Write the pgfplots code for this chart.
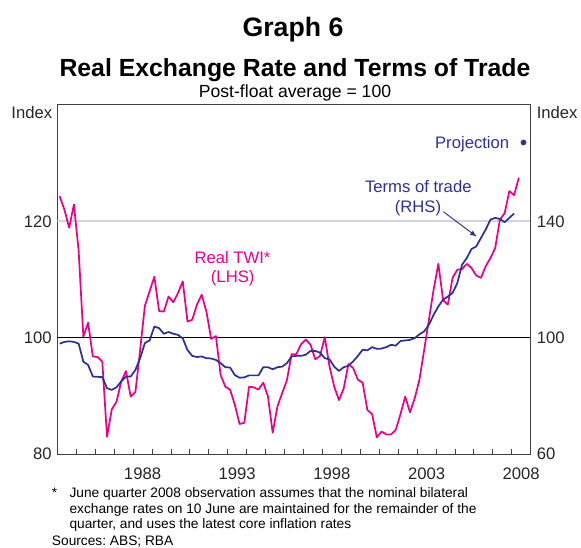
\documentclass[border=0pt]{standalone}
\usepackage{fontspec}
\setmainfont{Liberation Sans}
\usepackage{pgfplots}
\pgfplotsset{compat=1.18}
\usepackage{pgfplotstable}
\usetikzlibrary{arrows.meta}
\definecolor{twi}{RGB}{233,0,139}
\definecolor{tot}{RGB}{46,49,146}
\definecolor{gridgray}{RGB}{208,214,220}

\pgfplotstableread{
year val
1984.125 124.3
1984.375 122.0
1984.625 118.9
1984.875 122.9
1985.125 115.0
1985.375 100.2
1985.625 102.6
1985.875 96.8
1986.125 96.7
1986.375 95.9
1986.625 83.0
1986.875 87.7
1987.125 89.0
1987.375 92.5
1987.625 94.3
1987.875 89.9
1988.125 90.7
1988.375 98.0
1988.625 105.5
1988.875 108.0
1989.125 110.5
1989.375 104.6
1989.625 104.5
1989.875 107.1
1990.125 106.1
1990.375 107.7
1990.625 109.7
1990.875 102.8
1991.125 103.1
1991.375 105.7
1991.625 107.4
1991.875 104.5
1992.125 99.8
1992.375 100.3
1992.625 93.6
1992.875 91.6
1993.125 91.1
1993.375 88.5
1993.625 85.2
1993.875 85.4
1994.125 91.6
1994.375 91.5
1994.625 91.1
1994.875 92.3
1995.125 89.9
1995.375 83.7
1995.625 88.2
1995.875 90.5
1996.125 92.7
1996.375 97.2
1996.625 97.2
1996.875 98.9
1997.125 99.7
1997.375 98.8
1997.625 96.3
1997.875 96.9
1998.125 100.1
1998.375 95.1
1998.625 91.6
1998.875 89.3
1999.125 91.3
1999.375 95.5
1999.625 94.8
1999.875 92.8
2000.125 92.3
2000.375 87.6
2000.625 86.9
2000.875 82.9
2001.125 83.9
2001.375 83.4
2001.625 83.4
2001.875 84.2
2002.125 86.9
2002.375 89.9
2002.625 87.2
2002.875 89.6
2003.125 92.8
2003.375 97.9
2003.625 103.1
2003.875 108.3
2004.125 112.7
2004.375 106.5
2004.625 105.7
2004.875 110.3
2005.125 111.7
2005.375 111.8
2005.625 112.7
2005.875 112.0
2006.125 110.7
2006.375 110.3
2006.625 112.3
2006.875 113.7
2007.125 115.4
2007.375 120.3
2007.625 121.4
2007.875 125.2
2008.125 124.5
2008.375 127.5
}\twitable

\pgfplotstableread{
year val
1984.125 98.0
1984.375 98.6
1984.625 98.8
1984.875 98.6
1985.125 98.0
1985.375 91.8
1985.625 90.7
1985.875 86.7
1986.125 86.6
1986.375 86.5
1986.625 82.7
1986.875 82.1
1987.125 83.0
1987.375 85.0
1987.625 86.7
1987.875 86.7
1988.125 89.0
1988.375 93.0
1988.625 98.2
1988.875 99.1
1989.125 103.9
1989.375 103.3
1989.625 101.4
1989.875 102.0
1990.125 101.4
1990.375 101.0
1990.625 99.8
1990.875 95.8
1991.125 93.8
1991.375 93.4
1991.625 93.6
1991.875 93.0
1992.125 92.9
1992.375 92.4
1992.625 91.3
1992.875 89.9
1993.125 89.8
1993.375 87.2
1993.625 86.3
1993.875 86.4
1994.125 87.1
1994.375 87.1
1994.625 87.1
1994.875 89.9
1995.125 89.9
1995.375 89.2
1995.625 89.9
1995.875 90.1
1996.125 91.3
1996.375 93.6
1996.625 93.8
1996.875 93.8
1997.125 94.2
1997.375 95.5
1997.625 95.5
1997.875 94.9
1998.125 93.0
1998.375 92.6
1998.625 90.1
1998.875 88.6
1999.125 89.9
1999.375 90.4
1999.625 91.9
1999.875 93.8
2000.125 95.9
2000.375 95.7
2000.625 96.8
2000.875 96.2
2001.125 96.3
2001.375 96.8
2001.625 97.6
2001.875 97.3
2002.125 98.9
2002.375 99.1
2002.625 99.3
2002.875 99.9
2003.125 101.2
2003.375 102.2
2003.625 104.5
2003.875 107.9
2004.125 110.8
2004.375 113.1
2004.625 114.2
2004.875 115.4
2005.125 118.8
2005.375 125.1
2005.625 127.4
2005.875 130.5
2006.125 131.4
2006.375 134.3
2006.625 137.2
2006.875 140.6
2007.125 141.2
2007.375 140.8
2007.625 139.7
2007.875 141.2
2008.125 142.7
}\tottable

\begin{document}
\frenchspacing
\begin{tikzpicture}
\useasboundingbox (0,0) rectangle (435.75pt,411pt);
\pgfplotsset{
  common/.style={
    at={(43pt,70.3pt)}, anchor=south west,
    scale only axis, width=355pt, height=262pt,
    xmin=1984, xmax=2009,
    /pgf/number format/assume math mode=true,
    tick label style={font=\fontsize{12.5}{14}\selectfont, text=black!85},
    every axis plot/.append style={line width=1.3pt, line join=round},
  }
}
\begin{axis}[common,
  ymin=80, ymax=140,
  axis line style={draw=black!75, line width=0.8pt},
  ytick={80,100,120}, ytick pos=left,
  ytick style={draw=none},
  yticklabel style={anchor=east, inner sep=0pt, xshift=-4pt},
  xtick={1985,...,2008}, xticklabels={}, xtick pos=bottom,
  xtick align=inside, major tick length=3.75pt,
  xtick style={draw=black!75, line width=0.6pt},
  extra x ticks={1988.5,1993.5,1998.5,2003.5,2008.5},
  extra x tick labels={1988,1993,1998,2003,2008},
  extra x tick style={major tick length=0pt, xticklabel style={anchor=north, inner sep=0pt, yshift=-10pt}},
  /pgf/number format/1000 sep={},
]
\draw[gridgray, line width=1.5pt] (axis cs:1984,120) -- (axis cs:2009,120);
\draw[black, line width=0.8pt] (axis cs:1984,100) -- (axis cs:2009,100);
\addplot[twi] table[x=year, y=val] {\twitable};
\end{axis}
\begin{axis}[common,
  ymin=60, ymax=180,
  axis x line=none, axis y line*=right,
  axis line style={draw=black!75, line width=0.8pt},
  ytick={60,100,140},
  ytick style={draw=none},
  yticklabel style={anchor=west, inner sep=0pt, xshift=4.5pt},
]
\addplot[tot] table[x=year, y=val] {\tottable};
\addplot[only marks, mark=*, mark size=2pt, mark options={draw=tot, fill=tot, line width=0.3pt}] coordinates {(2008.62,167.1)};
\end{axis}
\begin{scope}[shift={(0pt,411pt)}, x=0.75pt, y=-0.75pt]
  \node[anchor=base, inner sep=0pt, font=\bfseries\fontsize{20}{24}\selectfont] at (293,37) {Graph 6};
  \node[anchor=base, inner sep=0pt, font=\bfseries\fontsize{18.6}{22}\selectfont] at (295,76.5) {Real Exchange Rate and Terms of Trade};
  \node[anchor=base, inner sep=0pt, font=\fontsize{13.2}{16}\selectfont] at (295,98) {Post-float average = 100};
  \node[anchor=base east, inner sep=0pt, font=\fontsize{12.5}{14}\selectfont, text=black!85] at (52.5,119) {Index};
  \node[anchor=base west, inner sep=0pt, font=\fontsize{12.5}{14}\selectfont, text=black!85] at (536.5,119) {Index};
  \node[anchor=base, inner sep=0pt, font=\fontsize{12.5}{14}\selectfont, text=twi] at (232.5,264) {Real TWI*};
  \node[anchor=base, inner sep=0pt, font=\fontsize{12.5}{14}\selectfont, text=twi] at (232.7,282.5) {(LHS)};
  \node[anchor=base, inner sep=0pt, font=\fontsize{12.5}{14}\selectfont, text=tot] at (418.3,192.5) {Terms of trade};
  \node[anchor=base, inner sep=0pt, font=\fontsize{12.5}{14}\selectfont, text=tot] at (418,213) {(RHS)};
  \node[anchor=base east, inner sep=0pt, font=\fontsize{12.5}{14}\selectfont, text=tot] at (509.5,148.5) {Projection};
  \draw[tot, line width=0.7pt, -{Latex[length=5pt,width=4pt]}] (443.3,211.7) -- (476.7,236.7);
  \node[anchor=base west, inner sep=0pt, font=\fontsize{10.3}{12}\selectfont] at (51.7,497.5) {*};
  \node[anchor=base west, inner sep=0pt, font=\fontsize{10.3}{12}\selectfont] at (69.3,497.5) {June quarter 2008 observation assumes that the nominal bilateral};
  \node[anchor=base west, inner sep=0pt, font=\fontsize{10.3}{12}\selectfont] at (69.3,513.3) {exchange rates on 10 June are maintained for the remainder of the};
  \node[anchor=base west, inner sep=0pt, font=\fontsize{10.3}{12}\selectfont] at (69.3,529) {quarter, and uses the latest core inflation rates};
  \node[anchor=base west, inner sep=0pt, font=\fontsize{10.3}{12}\selectfont] at (51.7,545.7) {Sources: ABS; RBA};
\end{scope}
\end{tikzpicture}
\end{document}
